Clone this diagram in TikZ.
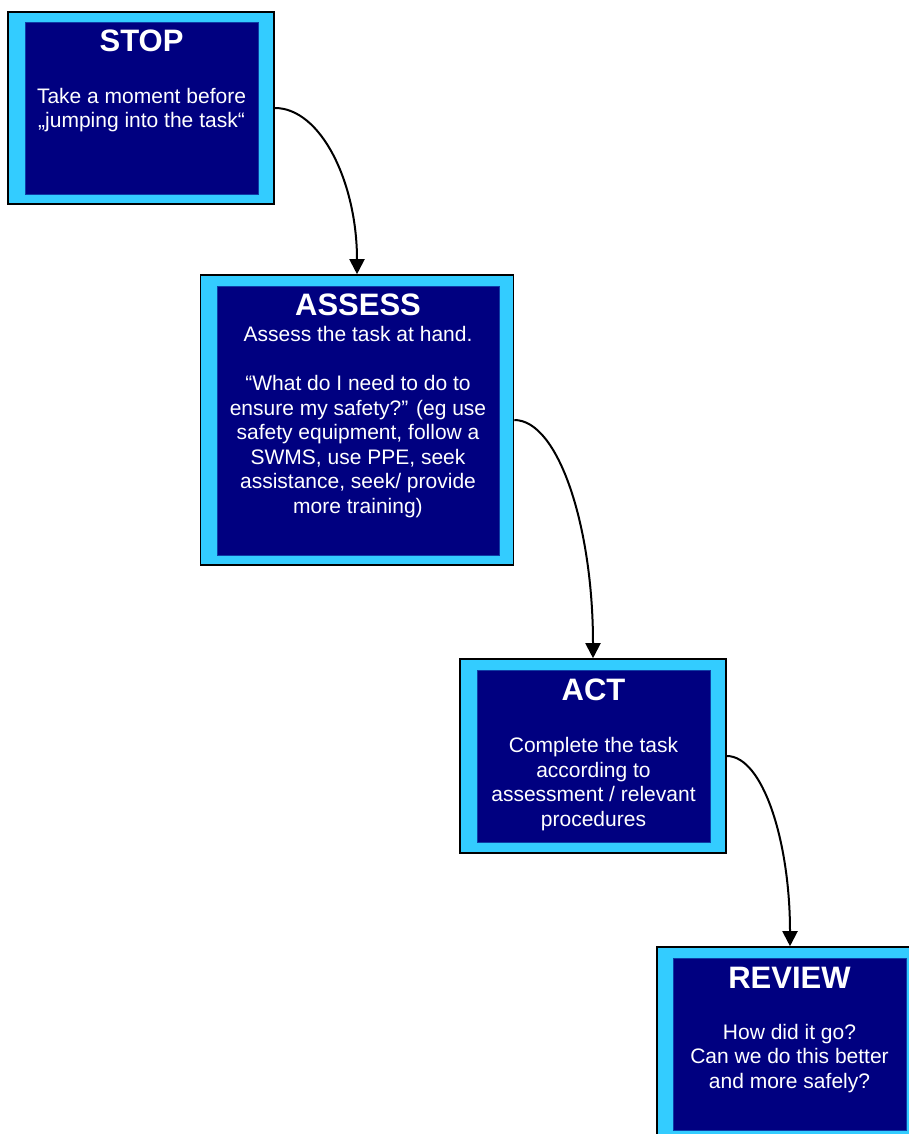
\documentclass[tikz,border=0pt]{standalone}
\usepackage{fontspec}
\setmainfont{Liberation Sans}
\usetikzlibrary{arrows.meta}
\definecolor{frameblue}{HTML}{33CCFF}
\definecolor{navyblue}{HTML}{000080}
\begin{document}
\begin{tikzpicture}[x=1pt,y=-1pt,
  outerbox/.style={draw=black,line width=1.6pt,fill=frameblue,inner sep=0pt},
  innerbox/.style={fill=navyblue,draw=navyblue!70!frameblue,line width=0.6pt,inner sep=0pt},
  titletext/.style={text=white,font=\bfseries\fontsize{31}{31}\selectfont,inner sep=0pt,anchor=base},
  bodytext/.style={text=white,font=\fontsize{21}{24.5}\selectfont,align=center,inner sep=0pt,anchor=base},
  flow/.style={line width=2pt,-{Triangle[length=15pt,width=15pt]}}]
\useasboundingbox (0,0) rectangle (909,1134);
% STOP
\node[outerbox,minimum width=266pt,minimum height=192pt] (stop) at (141,108) {};
\node[innerbox,minimum width=233pt,minimum height=172pt] (stopin) at (141.5,108) {};
\node[titletext] (stopt) at (141.5,52) {STOP};
\node[bodytext] (stopb) at (141.5,128) {Take a moment before\\„jumping into the task“};
% ASSESS
\node[outerbox,minimum width=313pt,minimum height=290pt] (assess) at (357,420) {};
\node[innerbox,minimum width=282pt,minimum height=269pt] (assessin) at (358,420.5) {};
\node[titletext] (assesst) at (358,315) {ASSESS};
\node[bodytext] (assessb) at (358,513) {Assess the task at hand.\\[24.5pt]“What do I need to do to\\ensure my safety?” (eg use\\safety equipment, follow a\\SWMS, use PPE, seek\\assistance, seek/ provide\\more training)};
% ACT
\node[outerbox,minimum width=266pt,minimum height=194pt] (act) at (593,756) {};
\node[innerbox,minimum width=233pt,minimum height=172pt] (actin) at (593.5,756) {};
\node[titletext] (actt) at (593.5,700) {ACT};
\node[bodytext] (actb) at (593.5,826) {Complete the task\\according to\\assessment / relevant\\procedures};
% REVIEW
\node[outerbox,minimum width=266pt,minimum height=193pt] (review) at (790,1043.5) {};
\node[innerbox,minimum width=233pt,minimum height=172pt] (reviewin) at (789.5,1044) {};
\node[titletext] (reviewt) at (789.5,988) {REVIEW};
\node[bodytext] (reviewb) at (789.5,1088) {How did it go?\\Can we do this better\\and more safely?};
% connectors
\draw[flow] (stop.east) .. controls +(46,0) and +(0,-92) .. (assess.north);
\draw[flow] (assess.east) .. controls +(44,0) and +(0,-132) .. (act.north);
\draw[flow] (act.east) .. controls +(36,0) and +(0,-105) .. (review.north);
\end{tikzpicture}
\end{document}
